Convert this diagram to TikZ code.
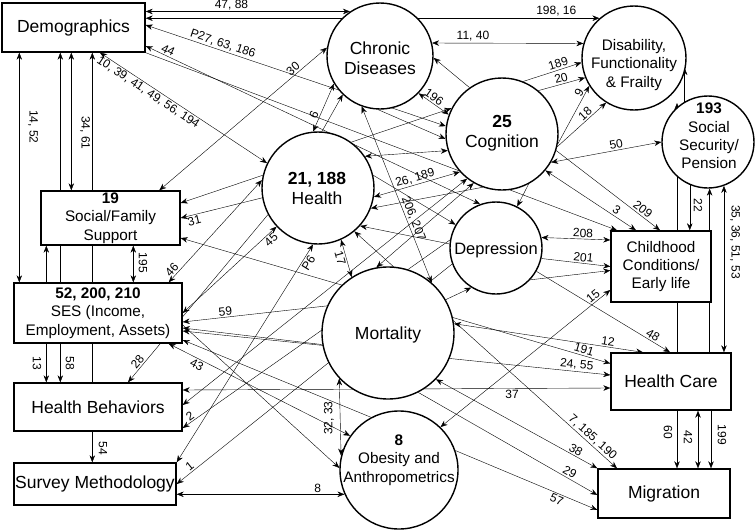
\documentclass[tikz,border=0pt]{standalone}
\usepackage{fontspec}
\setmainfont{Liberation Sans}
\usetikzlibrary{arrows.meta,backgrounds}
\newcommand{\FontBig}{\fontsize{17.5}{20}\selectfont}
\newcommand{\FontMid}{\fontsize{15.3}{18.3}\selectfont}
\newcommand{\FontDep}{\fontsize{16.5}{19}\selectfont}
\newcommand{\FontLab}{\fontsize{12}{14}\selectfont}
\begin{document}
\begin{tikzpicture}[x=1pt,y=-1pt,
  >={Stealth[length=7pt,width=5.5pt]},
  box/.style={draw,line width=1.4pt,fill=white,inner sep=0pt,align=center,font=\FontBig},
  circ/.style={draw,circle,line width=1.4pt,fill=white,inner sep=0pt},
  txt/.style={align=center,inner sep=0pt},
  ln/.style={line width=1.2pt},
  lab/.style={font=\FontLab,inner sep=1.5pt,sloped},
  vlab/.style={font=\FontLab,inner sep=0pt,rotate=-90}]
\useasboundingbox (0,0) rectangle (755,530);
% boxes
\node[box,minimum width=143pt,minimum height=49pt] (dem) at (73.5,27.5) {Demographics};
\node[box,font=\FontMid,minimum width=139pt,minimum height=54pt] (sfs) at (110.5,218) {\textbf{19}\\Social/Family\\Support};
\node[box,font=\FontMid,minimum width=168pt,minimum height=60pt] (ses) at (98,313) {\textbf{52, 200, 210}\\SES (Income,\\Employment, Assets)};
\node[box,minimum width=168pt,minimum height=48pt] (hb) at (98,407) {Health Behaviors};
\node[box,minimum width=162pt,minimum height=42pt] (sm) at (95,484) {Survey Methodology};
\node[box,font=\FontMid,minimum width=100pt,minimum height=71pt] (chi) at (661,266.5) {Childhood\\Conditions/\\Early life};
\node[box,minimum width=120pt,minimum height=57pt] (hc) at (671,381.5) {Health Care};
\node[box,minimum width=132pt,minimum height=49pt] (mig) at (664,493.5) {Migration};
% circles
\node[circ,minimum size=106pt] (chr) at (380,56) {};
\node[circ,minimum size=104pt] (dis) at (634,58) {};
\node[circ,minimum size=112pt] (cog) at (502,134) {};
\node[circ,minimum size=92pt] (ssp) at (708,142) {};
\node[circ,minimum size=112pt] (hea) at (318,188) {};
\node[circ,minimum size=92pt] (dep) at (496,248) {};
\node[circ,minimum size=132pt] (mor) at (388,333) {};
\node[circ,minimum size=118pt] (obe) at (399,470) {};
% circle texts
\node[txt,font=\FontBig] (chrt) at (380,58) {Chronic\\Diseases};
\node[txt,font=\FontMid] (dist) at (634,65) {Disability,\\Functionality\\\&~Frailty};
\node[txt,font=\FontBig] (cogt) at (502,133) {\textbf{25}\\Cognition};
\node[txt,font=\FontMid] (sspt) at (709,136) {\textbf{193}\\Social\\Security/\\Pension};
\node[txt,font=\FontBig] (heat) at (317,188) {\textbf{21, 188}\\Health};
\node[txt,font=\FontDep] (dept) at (496,250) {Depression};
\node[txt,font=\FontBig] (mort) at (388,335) {Mortality};
\node[txt,font=\FontMid] (obet) at (399,460) {\textbf{8}\\Obesity and\\Anthropometrics};
% vertical labels
\node[vlab] (v1) at (33,127) {14, 52};
\node[vlab] (v2) at (85,133) {34, 61};
\node[vlab] (v3) at (143,263) {195};
\node[vlab] (v4) at (37,363) {13};
\node[vlab] (v5) at (70,363) {58};
\node[vlab] (v6) at (103,448) {54};
\node[vlab] (v7) at (698,205) {22};
\node[vlab] (v8) at (735,242) {35, 36, 51, 53};
\node[vlab] (v9) at (668,432) {60};
\node[vlab] (v10) at (688,437) {42};
\node[vlab] (v11) at (722,435) {199};
\node[font=\FontLab,inner sep=0pt,rotate=90] (v12) at (329,418) {32, 33};
\coordinate (c677) at (677,103);
\begin{scope}[on background layer,ln]
% Demographics
\draw[<->] (dem.east |- chr.124) -- node[lab,above,pos=0.42]{47, 88} (chr.124);
\draw[<->] (dem.east |- dis.131) -- node[lab,above,pos=0.905]{198, 16} (dis.131);
\draw[<->] ([yshift=2.5pt]dem.east) -- node[lab,above,pos=0.25]{P27, 63, 186} (cog.172);
\draw[<->] ([yshift=-18.5pt]dem.east) -- node[lab,above,pos=0.06]{44} (dep.110);
\draw[->] (dem.south east) -- ([xshift=-44pt]chi.north);
\draw[<->] ([xshift=26.5pt]dem.south) -- node[lab,below,pos=0.31]{10, 39, 41, 49, 56, 194} (hea.154);
% left verticals
\draw[<->] ([xshift=18pt]dem.south west) -- ([xshift=6pt]ses.north west);
\draw[<->] ([xshift=59pt]dem.south west) -- ([xshift=47pt]hb.north west);
\draw[<->] ([xshift=70pt]dem.south west) -- ([xshift=31pt]sfs.north west);
\draw[<-] ([xshift=91pt]dem.south west) -- ([xshift=79pt]hb.north west);
\draw[->] ([xshift=33pt]ses.north west) -- ([xshift=6pt]sfs.south west);
\draw[->] ([xshift=33pt]ses.south west) -- ([xshift=33pt]hb.north west);
\draw[<->] ([xshift=93pt]sfs.south west) -- ([xshift=120pt]ses.north west);
\draw[->] ([xshift=79pt]hb.south west) -- ([xshift=79pt]sm.north west);
% chronic
\draw[<->] ([xshift=119pt]sfs.north west) -- node[lab,above,pos=0.82]{30} (chr.171);
\draw[<->] (hea.95) -- node[lab,above,pos=0.3]{6} (chr.211);
\draw[->] (hea.86) -- (chr.226);
\draw[<->] (chr.14) -- node[lab,above,pos=0.27]{11, 40} (dis.164);
\draw[->] (cog.125) -- (chr.358);
\draw[<->] (chr.316) -- node[lab,above,pos=0.4]{196} (cog.160);
\draw[->] (chr.268) -- (cog.185);
\draw[<->] (chr.250) -- node[lab,above,pos=0.65]{206, 207} (mor.49);
% cognition
\draw[->] (cog.68) -- node[lab,above,pos=0.63]{189} (dis.185);
\draw[->] (cog.50) -- node[lab,above,pos=0.52]{20} (dis.202);
\draw[->] (cog.350) -- node[lab,above,pos=0.84]{9} (dis.212);
\draw[->] (cog.347) -- node[lab,above,pos=0.65]{18} (dis.238);
\draw[<->] (cog.330) -- node[lab,above,pos=0.6]{50} (ssp.180);
\draw[<->] (cog.320) -- node[lab,above,pos=0.75]{3} ([xshift=-25pt]chi.north);
\draw[->] (cog.343) -- node[lab,above,pos=0.8]{209} ([xshift=-1pt]chi.north);
\draw[->] (cog.298) -- (dep.63);
% health
\draw[<->] (hea.351) -- node[lab,above,pos=0.5]{26, 189} (cog.222);
\draw[<->] (hea.34) -- (cog.197);
\draw[->] (hea.54) -- (cog.153);
\draw[<-] (hea.339) -- (cog.250);
\draw[->] (hea.13) -- (dep.150);
\draw[<-] (hea.318) -- (dep.175);
\draw[<->] (hea.294) -- node[lab,below,pos=0.45]{17} (mor.123);
\draw[<->] (ses.east) -- node[lab,below,pos=0.9]{45} (hea.223);
\draw[<->] ([xshift=-14pt]ses.north east) -- node[lab,above,pos=0.08]{46} (hea.172);
\draw[<-] ([yshift=15pt]sfs.east) -- (hea.167);
\draw[<-] (sfs.east) -- node[lab,below,pos=0.15]{31} (hea.190);
\draw[<-] ([xshift=30pt]hb.north) -- node[lab,above,pos=0.1]{28} (hea.208);
\draw[<->] (sm.north east) -- node[lab,below,pos=0.93]{P6} (hea.265);
\draw[<->] (hea.310) -- node[lab,above,pos=0.89]{7, 185, 190} ([xshift=-47pt]mig.north);
% mortality
\draw[<-] ([yshift=-9pt]ses.east) -- node[lab,above,pos=0.3]{59} (mor.156);
\draw[<-] ([yshift=-15pt]ses.east) -- (mor.190);
\draw[<->] (mor.8) -- node[lab,above,pos=0.81]{12} ([xshift=-28pt]hc.north);
\draw[<->] (mor.316) -- node[lab,above,pos=0.85]{38} (mig.north west);
\draw[->] (mor.297) -- node[lab,above,pos=0.83]{29} ([yshift=-1.5pt]mig.west);
\draw[<->] (obe.166) -- (mor.223);
\draw[<->] (mor.100) -- (cog.240);
\draw[->] (mor.30) -- (dep.238);
% others
\draw[<->] ([yshift=-20pt]sfs.east) -- node[lab,above,pos=0.935]{191} ([yshift=18pt]hc.west);
\draw[<->] ([yshift=-18pt]ses.east) -- node[lab,above,pos=0.92]{24, 55} ([yshift=6.5pt]hc.west);
\draw[<->] ([yshift=17pt]hb.east) -- node[lab,below,pos=0.77]{37} ([yshift=-6.5pt]hc.west);
\draw[<-] ([yshift=-21pt]hb.east) -- node[lab,above,pos=0.04]{2} (dep.170);
\draw[<->] ([yshift=2pt]hb.east) -- (cog.232);
\draw[<-] (sm.east) -- node[lab,above,pos=0.06]{1} (dep.200);
\draw[<->] (sm.east |- obe.204) -- node[lab,above,pos=0.84]{8} (obe.204);
\draw[<->] ([xshift=-14pt]ses.south east) -- node[lab,below,pos=0.17]{43} (obe.145);
\draw[->] ([yshift=-12pt]ses.east) -- (obe.178);
\draw[<-] ([yshift=-27pt]ses.east) -- (obe.118);
\draw[<->] (obe.46) -- node[lab,above,pos=0.92]{15} ([yshift=-23.5pt]chi.west);
\draw[->] (obe.19) -- node[lab,below,pos=0.73]{57} ([yshift=-16.5pt]mig.west);
% depression
\draw[<->] (dep.13) -- node[lab,above,pos=0.6]{208} ([yshift=26.5pt]chi.west);
\draw[->] (dep.347) -- node[lab,above,pos=0.6]{201} (chi.west);
\draw[->] (dep.317) -- ([yshift=-4pt]chi.west);
\draw[->] (dep.330) -- node[lab,above,pos=0.85]{48} ([xshift=-1pt]hc.north);
% right side verticals
\draw[->] (ssp.120) -- (ssp.120 |- dis.349);
\draw[->] ([xshift=6pt]hc.north) -- (c677);
\draw[->] (ssp.272 |- hc.north) -- (ssp.272);
\draw[<->] (ssp.290) -- (ssp.290 |- hc.north);
\draw[->] (ssp.247) -- (ssp.247 |- chi.north);
\draw[->] ([xshift=6pt]hc.south) -- ([xshift=13pt]mig.north);
\draw[<->] ([xshift=27pt]hc.south) -- ([xshift=34pt]mig.north);
\draw[->] ([xshift=40pt]hc.south) -- ([xshift=47pt]mig.north);
\end{scope}
\end{tikzpicture}
\end{document}
